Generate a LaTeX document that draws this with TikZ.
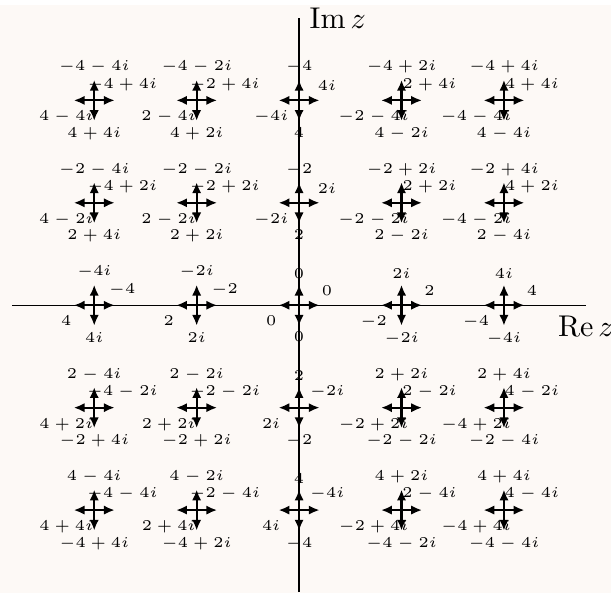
\documentclass[tikz,border=0pt]{standalone}
\usepackage{amsmath}
\usetikzlibrary{arrows.meta,positioning}
\definecolor{paper}{RGB}{253,249,246}
% complex number a+bi from two integers
\newcommand{\cnum}[2]{%
 \ifnum#2=0\relax $#1$%
 \else\ifnum#1=0\relax $#2i$%
 \else\ifnum#2<0\relax $#1-\the\numexpr0-(#2)\relax i$%
 \else $#1+#2i$\fi\fi\fi}

\begin{document}
\begin{tikzpicture}[x=0.6cm,y=0.6cm,>={Latex[length=3.6pt,width=3.1pt]},
 vec/.style={->,line width=0.7pt},lbl/.style={font=\tiny,inner sep=0pt}]
\useasboundingbox (-5.84,-5.61) rectangle (6.09,5.96);
\fill[paper] (-5.84,-5.61) rectangle (6.09,5.86);
% axes
\coordinate (xl) at (-5.6,0);\coordinate (xr) at (5.6,0);
\coordinate (yb) at (0,-5.6);\coordinate (yt) at (0,5.6);
\draw (xl)--(xr);\draw (yb)--(yt);
\node[below] (re) at (xr) {$\mathrm{Re}\,z$};
\node[right] (im) at (yt) {$\mathrm{Im}\,z$};
% the four images z, iz, -z, -iz at each point
\foreach \a [count=\ci] in {-4,-2,0,2,4}
 \foreach \b [count=\cj] in {-4,-2,0,2,4}{
 \pgfmathtruncatemacro\na{-\a}\pgfmathtruncatemacro\nb{-\b}
 \coordinate (c\ci\cj) at (\a,\b);
 \coordinate (n\ci\cj) at (\a,\b+0.4);\coordinate (s\ci\cj) at (\a,\b-0.4);
 \coordinate (e\ci\cj) at (\a+0.4,\b);\coordinate (w\ci\cj) at (\a-0.4,\b);
 \draw[vec] (c\ci\cj)--(n\ci\cj);\draw[vec] (c\ci\cj)--(s\ci\cj);
 \draw[vec] (c\ci\cj)--(e\ci\cj);\draw[vec] (c\ci\cj)--(w\ci\cj);
 \node[lbl,above=2pt of n\ci\cj] (ln\ci\cj) {\cnum{\nb}{\a}};
 \node[lbl,above=3pt of e\ci\cj,xshift=2.5pt] (le\ci\cj) {\cnum{\a}{\b}};
 \node[lbl,below=3.3pt of w\ci\cj,xshift=-2.5pt] (lw\ci\cj) {\cnum{\na}{\nb}};
 \node[lbl,below=2pt of s\ci\cj] (ls\ci\cj) {\cnum{\b}{\na}};
 }
\end{tikzpicture}
\end{document}
